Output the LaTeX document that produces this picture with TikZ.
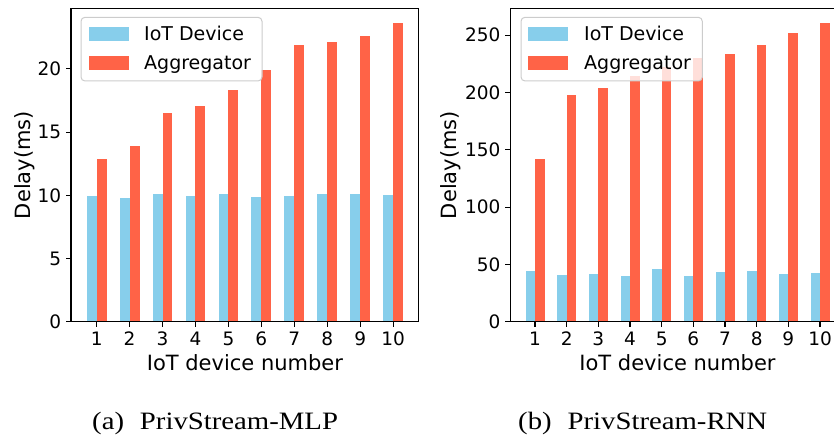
\documentclass[tikz,border=0pt]{standalone}
\usepackage{fontspec}
\usepackage{graphicx}
\setmainfont{DejaVu Sans}
\newfontfamily\capfont{Liberation Serif}
\definecolor{devblue}{HTML}{87CEEB}
\definecolor{aggred}{HTML}{FF6347}
\definecolor{legedge}{HTML}{CCCCCC}
\tikzset{
  spine/.style={line width=1.1pt},
  tickmark/.style={line width=1.1pt},
  ticklbl/.style={font=\fontsize{18.5}{22}\selectfont, inner sep=0pt},
  axislbl/.style={font=\fontsize{21}{25}\selectfont, inner sep=0pt, anchor=base},
  legtext/.style={font=\fontsize{19}{23}\selectfont, inner sep=0pt, anchor=base west},
  devbar/.style={fill=devblue},
  aggbar/.style={fill=aggred},
  legbox/.style={draw=legedge, line width=1pt, fill=white, fill opacity=0.8, rounded corners=4pt},
  caplbl/.style={font=\capfont\fontsize{25}{30}\selectfont, inner sep=0pt, anchor=base west},
}
\begin{document}
\begin{tikzpicture}[x=1pt,y=1pt]
\useasboundingbox (0,0) rectangle (834,440);

% ---------------- (a) PrivStream-MLP ----------------
\begin{scope}[shift={(63.77pt,118.3pt)}, x=32.93pt, y=12.64pt]
  \foreach \i/\d/\a in {1/9.94/12.87, 2/9.79/13.90, 3/10.10/16.50, 4/9.94/17.07,
                        5/10.10/18.33, 6/9.87/19.91, 7/9.94/21.89, 8/10.10/22.13,
                        9/10.10/22.60, 10/10.02/23.63} {
    \fill[devbar] (\i-0.3,0) rectangle (\i,\d);
    \fill[aggbar] (\i,0) rectangle (\i+0.3,\a);
  }
  \draw[spine] (0.22,0) rectangle (10.78,24.81);
  \foreach \v in {0,5,10,15,20} {
    \draw[tickmark] (0.22,\v) -- ++(-4.86pt,0);
    \node[ticklbl, anchor=base east, xshift=-9.7pt, yshift=-6.7pt] (ya\v) at (0.22,\v) {\v};
  }
  \foreach \i in {1,...,10} {
    \draw[tickmark] (\i,0) -- ++(0,-4.86pt);
    \node[ticklbl, anchor=base, yshift=-23.3pt] (xa\i) at (\i,0) {\i};
  }
  \node[axislbl, yshift=-48.3pt] (xlabA) at (5.5,0) {IoT device number};
\end{scope}
\node[axislbl, rotate=90] (ylabA) at (30,275) {Delay(ms)};
% legend
\draw[legbox] (81,422.7) rectangle (262,359);
\fill[devbar] (89,412.7) rectangle (129,399);
\fill[aggbar] (89,384) rectangle (129,370);
\node[legtext] (legA1) at (144,399.3) {IoT Device};
\node[legtext] (legA2) at (144,370.5) {Aggregator};

% ---------------- (b) PrivStream-RNN ----------------
\begin{scope}
  \clip (0,0) rectangle (834,440);
  \begin{scope}[shift={(503.33pt,118.3pt)}, x=31.67pt, y=1.146pt]
    \foreach \i/\d/\a in {1/44.2/142.0, 2/40.7/197.8, 3/41.6/203.9, 4/39.9/214.5,
                          5/46.0/222.0, 6/39.9/229.8, 7/43.4/233.6, 8/44.2/241.4,
                          9/41.6/251.9, 10/42.5/260.6} {
      \fill[devbar] (\i-0.3,0) rectangle (\i,\d);
      \fill[aggbar] (\i,0) rectangle (\i+0.3,\a);
    }
    \draw[spine] (0.22,0) rectangle (10.78,273.63);
    \foreach \v in {0,50,100,150,200,250} {
      \draw[tickmark] (0.22,\v) -- ++(-4.86pt,0);
      \node[ticklbl, anchor=base east, xshift=-9.7pt, yshift=-6.7pt] (yb\v) at (0.22,\v) {\v};
    }
    \foreach \i in {1,...,10} {
      \draw[tickmark] (\i,0) -- ++(0,-4.86pt);
      \node[ticklbl, anchor=base, yshift=-23.3pt] (xb\i) at (\i,0) {\i};
    }
    \node[axislbl, yshift=-48.3pt] (xlabB) at (5.5,0) {IoT device number};
  \end{scope}
\end{scope}
\node[axislbl, rotate=90] (ylabB) at (456,275) {Delay(ms)};
% legend
\draw[legbox] (521,422.7) rectangle (702.3,359);
\fill[devbar] (528.3,412.7) rectangle (568.3,399);
\fill[aggbar] (528.3,384) rectangle (568.3,370);
\node[legtext] (legB1) at (584,399.3) {IoT Device};
\node[legtext] (legB2) at (584,370.5) {Aggregator};

% ---------------- sub-captions ----------------
\node[caplbl] (capA) at (92,11) {\scalebox{1.15}[1]{(a)\hspace{13.8pt}PrivStream-MLP}};
\node[caplbl] (capB) at (518,11) {\scalebox{1.15}[1]{(b)\hspace{13.8pt}PrivStream-RNN}};
\end{tikzpicture}
\end{document}
